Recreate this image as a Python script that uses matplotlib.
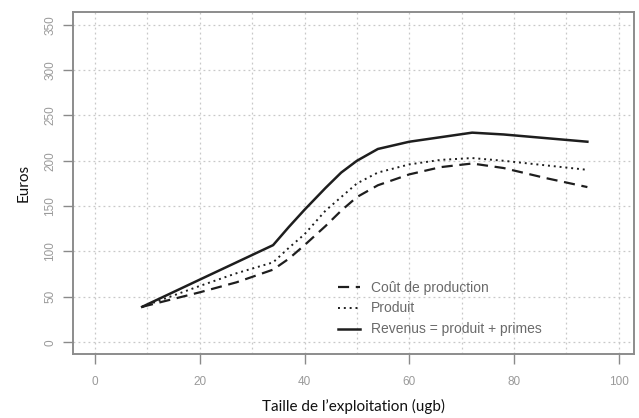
import matplotlib
matplotlib.use("Agg")
import matplotlib.pyplot as plt
from matplotlib.ticker import MultipleLocator

# Data
taille = [9, 20, 27, 34, 37, 40, 44, 47, 50, 54, 60, 66, 72, 78, 86, 94]
cout_production = [39, 55, 66, 80, 92, 107, 128, 145, 160, 173, 185, 193, 197, 192, 181, 171]
produit = [39, 62, 76, 88, 104, 119, 145, 160, 175, 187, 196, 201, 203, 200, 195, 190]
revenus = [39, 69, 88, 107, 127, 146, 170, 187, 200, 213, 221, 226, 231, 229, 225, 221]

labels = ["Coût de production", "Produit", "Revenus = produit + primes"]
x_ticks = [0, 20, 40, 60, 80, 100]
y_ticks = [0, 50, 100, 150, 200, 250, 300, 350]

fig = plt.figure(figsize=(6.39, 4.18), dpi=100)
W, H = 639, 418
ax = fig.add_axes([73 / W, 1 - 354 / H, (634 - 73) / W, (354 - 12) / H])

line_col = "#1e1e1e"
ax.plot(taille, cout_production, color=line_col, lw=1.6, linestyle=(0, (5, 3)), label=labels[0])
ax.plot(taille, produit, color=line_col, lw=1.4, linestyle=(0, (1, 2)), label=labels[1])
ax.plot(taille, revenus, color=line_col, lw=1.8, linestyle="-", label=labels[2])

ax.set_xlim(-4.2, 102.9)
ax.set_ylim(-13, 364)

ax.set_xticks(x_ticks)
ax.set_yticks(y_ticks)
ax.xaxis.set_minor_locator(MultipleLocator(10))

ax.grid(True, which="major", axis="y", color="#c8c8c8", linestyle=(0, (1.5, 2.5)), lw=0.9)
ax.grid(True, which="both", axis="x", color="#c8c8c8", linestyle=(0, (1.5, 2.5)), lw=0.9)
ax.tick_params(axis="x", which="minor", length=0)

tick_col = "#8a8a8a"
ax.tick_params(axis="both", which="major", colors=tick_col, length=7, width=1.0,
               labelsize=8.5, direction="out")
ax.tick_params(axis="x", pad=9)
ax.tick_params(axis="y", pad=5)
for lab in ax.get_xticklabels() + ax.get_yticklabels():
    lab.set_family("Liberation Sans")
    lab.set_color("#9a9a9a")
for lab in ax.get_yticklabels():
    lab.set_rotation(90)
    lab.set_verticalalignment("center")

for sp in ax.spines.values():
    sp.set_color("#8c8c8c")
    sp.set_linewidth(1.4)

ax.set_xlabel("Taille de l\u2019exploitation (ugb)", fontsize=11, family="Lato", color="#111111", labelpad=8)
ax.set_ylabel("Euros", fontsize=11, family="Lato", color="#111111", labelpad=10)

leg = ax.legend(loc="upper left", bbox_to_anchor=((332 - 73) / (634 - 73), (354 - 275) / (354 - 12)),
                frameon=False, fontsize=10, handlelength=1.6, handletextpad=0.8,
                labelspacing=0.5, borderaxespad=0)
for t in leg.get_texts():
    t.set_color("#6a6a6a")
    t.set_family("Liberation Sans")

fig.savefig("out.png", dpi=100)
